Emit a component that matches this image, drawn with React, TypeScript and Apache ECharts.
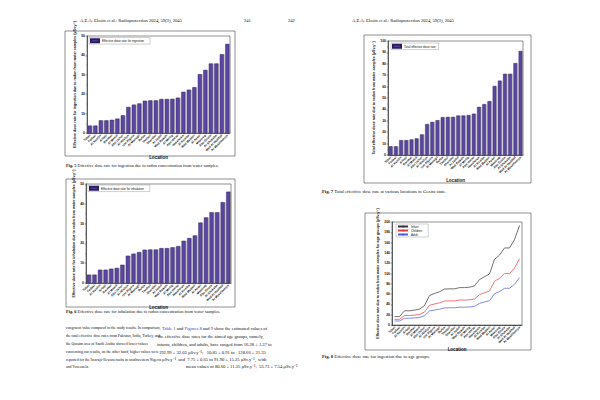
import React, { useEffect, useRef } from "react";
import * as echarts from "echarts";

const locations = [
  "Tabat", "Fadasi", "Al Kamlin", "Arbaji", "Barakat", "Al Masid", "Abu Usher",
  "Al Hilaliya", "Um Algura", "Al Managil", "Rufaa", "Tambul", "Sharafat",
  "Al Jadid", "Wad Rawah", "Al Meilig", "Abu Haraz", "Hasaheisa", "Al Kiraiba",
  "Wad Madani", "Al Azazi", "Maatoug", "Abu Gouta", "Al Shukaba",
  "Wad Al Haddad", "Al Mesallamiya",
];

const ingestion = [3.8, 3.8, 6.5, 6.5, 6.8, 7.4, 9.1, 13.4, 14.6, 15.2, 16.6, 16.8, 16.8, 17.5, 17.5, 17.6, 18.2, 21.2, 22.3, 23.6, 30.3, 32.5, 35.8, 35.8, 40.6, 45.9];
const inhalation = [4.2, 4.2, 6.7, 6.7, 7.2, 7.6, 9.2, 13.8, 14.8, 15.6, 16.8, 16.9, 16.9, 17.6, 17.6, 18.0, 18.6, 21.3, 22.7, 24.0, 30.5, 33.1, 35.7, 35.7, 40.8, 46.1];
const totalDose = [7.6, 7.6, 13.0, 13.0, 13.6, 14.5, 18.0, 27.1, 29.0, 30.5, 33.2, 33.4, 33.4, 34.6, 34.6, 35.0, 36.2, 42.2, 44.6, 47.2, 60.5, 65.2, 71.2, 71.2, 80.6, 91.2];
const infant = [16.3, 16.3, 27.6, 27.6, 28.8, 30.8, 37.8, 57.2, 61.2, 64.5, 69.8, 70.2, 70.2, 72.6, 72.6, 73.4, 76.0, 88.2, 93.8, 99.0, 127.6, 135.8, 149.6, 149.6, 166.0, 193.0];
const children = [10.9, 10.9, 18.4, 18.4, 19.2, 20.5, 25.2, 38.2, 40.8, 43.0, 46.6, 46.8, 46.8, 48.4, 48.4, 49.0, 50.6, 58.8, 62.6, 66.0, 85.0, 90.6, 99.8, 99.8, 110.6, 128.7];
const adult = [7.8, 7.8, 13.1, 13.1, 13.7, 14.6, 18.0, 27.3, 29.1, 30.7, 33.3, 33.4, 33.4, 34.6, 34.6, 35.0, 36.2, 42.0, 44.7, 47.2, 60.7, 64.7, 71.3, 71.3, 79.0, 91.9];

const yTicks50 = { min: 0, max: 50, interval: 10 };
const yTicks100 = { min: 0, max: 100, interval: 10 };
const yTicks200 = { min: 0, max: 200, interval: 20 };

const SANS = "Liberation Sans";
const SERIF = "Liberation Serif";
const PURPLE = "#5c45a3";

function xAxisFor(gridIndex: number, gap: number, dotted = false) {
  return {
    type: "category",
    gridIndex,
    data: locations,
    name: "Location",
    nameLocation: "middle",
    nameGap: gap,
    nameTextStyle: { fontFamily: SANS, fontSize: 4.5, fontWeight: "bold", color: "#111" },
    axisLine: { lineStyle: { color: "#111", width: 0.6, type: dotted ? "dotted" : "solid" } },
    axisTick: { show: true, alignWithLabel: true, length: 1.5, lineStyle: { width: 0.4, color: "#111" } },
    axisLabel: { interval: 0, rotate: 45, fontSize: 3.1, fontFamily: SANS, color: "#111", margin: 2, fontWeight: "bold" },
  };
}

function yAxisFor(gridIndex: number, ticks: any, name: string, gap: number) {
  return {
    type: "value",
    gridIndex,
    ...ticks,
    name,
    nameLocation: "middle",
    nameGap: gap,
    nameRotate: 90,
    nameTextStyle: { fontFamily: SANS, fontSize: 3.6, fontWeight: "bold", color: "#111" },
    axisLine: { show: true, lineStyle: { color: "#111", width: 0.6 } },
    axisTick: { show: true, length: 1.5, lineStyle: { width: 0.4, color: "#111" } },
    minorTick: { show: true, splitNumber: 2, length: 0.8, lineStyle: { width: 0.3, color: "#111" } },
    splitLine: { show: false },
    axisLabel: { fontSize: 3.4, fontFamily: SANS, color: "#111", margin: 2, fontWeight: "bold" },
  };
}

function barLegend(name: string, left: number, top: number, padRight: number) {
  return {
    data: [name],
    left,
    top,
    orient: "vertical",
    icon: "rect",
    itemWidth: 8,
    itemHeight: 3,
    itemGap: 1,
    padding: [0.8, padRight, 0.8, 1],
    borderColor: "#888",
    borderWidth: 0.4,
    textStyle: { fontFamily: SANS, fontSize: 3, color: "#111", padding: [0, 0, 0, -2] },
  };
}

function frame(x: number, y: number, w: number, h: number) {
  return {
    type: "rect",
    shape: { x, y, width: w, height: h },
    style: { fill: "none", stroke: "#444", lineWidth: 0.6 },
    silent: true,
  };
}

function txt(x: number, y: number, text: string, size: number, rich?: any, fill = "#111") {
  return {
    type: "text",
    x,
    y,
    silent: true,
    style: { text, fontFamily: SERIF, fontSize: size, fill, rich: rich || {}, textVerticalAlign: "middle" },
  };
}

const boldRich = (size: number) => ({ b: { fontFamily: SERIF, fontSize: size, fontWeight: "bold", fill: "#111" } });
const blueRich = (size: number) => ({ u: { fontFamily: SERIF, fontSize: size, fill: "#2244cc" } });

export default function App() {
  const ref = useRef<HTMLDivElement>(null);
  useEffect(() => {
    if (!ref.current) return;
    const chart = echarts.init(ref.current, null, { renderer: "svg" });
    const barItem = { color: PURPLE, borderColor: "#2a1e5e", borderWidth: 0.4, shadowColor: "rgba(120,120,120,0.7)", shadowOffsetX: 0.8, shadowBlur: 0 };
    const lineSeries = (name: string, data: number[], color: string) => ({
      name, type: "line", xAxisIndex: 3, yAxisIndex: 3, data, symbol: "none", showSymbol: false,
      lineStyle: { color, width: 0.7 }, itemStyle: { color },
    });
    const option: any = {
      animation: false,
      backgroundColor: "#fff",
      grid: [
        { left: 87, top: 36, width: 143, height: 97, show: true, borderColor: "#222", borderWidth: 0.5 },
        { left: 86, top: 184, width: 145, height: 99, show: true, borderColor: "#222", borderWidth: 0.5 },
        { left: 388, top: 41, width: 135, height: 114, show: true, borderColor: "#222", borderWidth: 0.5 },
        { left: 392, top: 222, width: 130, height: 103, show: true, borderColor: "#222", borderWidth: 0.5 },
      ],
      xAxis: [xAxisFor(0, 20), xAxisFor(1, 19), xAxisFor(2, 23), xAxisFor(3, 21, true)],
      yAxis: [
        yAxisFor(0, yTicks50, "Effective dose rate for ingestion due to radon from water samples (µSv.y⁻¹)", 10),
        yAxisFor(1, yTicks50, "Effective dose rate for inhalation due to radon from water samples (µSv.y⁻¹)", 10),
        yAxisFor(2, yTicks100, "Total effective dose rate due to radon from water samples (µSv.y⁻¹)", 11),
        yAxisFor(3, yTicks200, "Effective dose rate due to radon from water samples for age groups (µSv.y⁻¹)", 12),
      ],
      legend: [
        barLegend("Effective dose rate for ingestion", 89, 37.5, 6),
        barLegend("Effective dose rate for inhalation", 88, 185, 6),
        barLegend("Total effective dose rate", 391, 43, 3),
        {
          data: ["Infant", "Children", "Adult"],
          left: 396,
          top: 224,
          orient: "vertical",
          itemWidth: 10,
          itemHeight: 2,
          itemGap: 1,
          padding: [1, 6, 1, 1],
          borderColor: "#888",
          borderWidth: 0.4,
          textStyle: { fontFamily: SANS, fontSize: 3, color: "#111", padding: [0, 0, 0, -2] },
        },
      ],
      series: [
        { name: "Effective dose rate for ingestion", type: "bar", xAxisIndex: 0, yAxisIndex: 0, data: ingestion, barCategoryGap: "28%", itemStyle: barItem },
        { name: "Effective dose rate for inhalation", type: "bar", xAxisIndex: 1, yAxisIndex: 1, data: inhalation, barCategoryGap: "28%", itemStyle: barItem },
        { name: "Total effective dose rate", type: "bar", xAxisIndex: 2, yAxisIndex: 2, data: totalDose, barCategoryGap: "32%", itemStyle: barItem },
        lineSeries("Infant", infant, "#333"),
        lineSeries("Children", children, "#e8383f"),
        lineSeries("Adult", adult, "#4a5ad8"),
      ],
      graphic: [
        frame(65, 31, 170, 125),
        frame(66, 179, 169, 128),
        frame(364, 35, 167, 148),
        frame(365, 213, 166, 137),
        txt(80, 20, "A.E.A. Elzain et al.: Radioprotection 2024, 59(3), 2045", 4.6),
        txt(244, 20, "241", 4.6),
        txt(288, 20, "242", 4.6),
        txt(352, 20, "A.E.A. Elzain et al.: Radioprotection 2024, 59(3), 2045", 4.6),
        txt(66, 165.5, "{b|Fig. 5} Effective dose rate for ingestion due to radon concentration from water samples.", 4.4, boldRich(4.4)),
        txt(66, 311.5, "{b|Fig. 6} Effective dose rate for inhalation due to radon concentration from water samples.", 4.4, boldRich(4.4)),
        txt(322, 191, "{b|Fig. 7} Total effective dose rate at various locations in Gezira state.", 4.7, boldRich(4.7)),
        txt(322, 356, "{b|Fig. 8} Effective dose rate for ingestion due to age groups.", 4.7, boldRich(4.7)),
        txt(66, 328, "congruent value compared to the study results. In comparison,", 3.8),
        txt(66, 336, "the total effective dose rates from Pakistan, India, Turkey, and", 3.8),
        txt(66, 344, "the Qassim area of Saudi Arabia showed lower values", 3.8),
        txt(66, 352, "concerning our results, on the other hand, higher values were", 3.8),
        txt(66, 359.5, "reported for the Iwaraja-Ilewara faults in southwestern Nigeria", 3.8),
        txt(66, 366.5, "and Venezuela.", 3.8),
        txt(162, 328, "{u|Table 1} and {u|Figures 8} and {u|9} show the estimated values of", 4.6, blueRich(4.6)),
        txt(158, 336, "the effective dose rates for the aimed age groups, namely,", 4.6),
        txt(157, 344, "infants, children, and adults, have ranged from 16.28 ± 1.37 to", 4.6),
        txt(159, 352, "192.99 ± 32.03 µSv.y⁻¹;   10.85 ± 0.91 to   128.66 ± 21.35", 4.6),
        txt(162, 359.5, "µSv.y⁻¹  and  7.75 ± 0.65 to 91.90 ± 15.25 µSv.y⁻¹,  with", 4.6),
        txt(186, 366.5, "mean values of 80.60 ± 11.25 µSv.y⁻¹;  53.73 ± 7.54 µSv.y⁻¹", 4.6),
      ],
    };
    chart.setOption(option);
    return () => chart.dispose();
  }, []);
  return <div ref={ref} style={{ position: "fixed", left: 0, top: 0, width: 600, height: 400, background: "#fff" }} />;
}
